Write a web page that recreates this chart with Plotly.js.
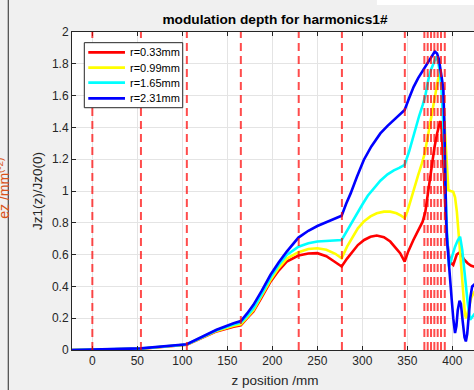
<!DOCTYPE html>
<html>
<head>
<meta charset="utf-8">
<script src="https://cdn.plot.ly/plotly-3.0.1.min.js"></script>
<style>
html,body{margin:0;padding:0;overflow:hidden;background:#f0f0f0;}
#chart{width:482px;height:390px;}
</style>
</head>
<body>
<div id="chart"></div>
<script>
// ---- data ----
const seriesNames = ["r=0.33mm", "r=0.99mm", "r=1.65mm", "r=2.31mm"];
const seriesColors = ["#ff0000", "#ffff00", "#00ffff", "#0000ff"];

const zRed = [-22.6, 0, 54, 105, 120, 138, 157, 165, 172, 179, 188, 198, 207, 216, 229, 240, 250, 260, 268, 277,
  283, 289, 295, 302, 309, 316, 324, 331, 337, 342, 347,
  351, 356.7, 362, 367, 370, 372, 374, 377, 380, 383, 386.5, 388, 390, 392, 394, 396, 398, 401, 404.9, 407, 410, 413, 417, 421, 425];
const jRed = [0, 0.001, 0.008, 0.033, 0.072, 0.117, 0.146, 0.155, 0.2, 0.242, 0.33, 0.43, 0.5, 0.556, 0.594, 0.607, 0.609, 0.59, 0.56, 0.525,
  0.575, 0.62, 0.66, 0.692, 0.712, 0.72, 0.71, 0.682, 0.645, 0.609, 0.556,
  0.62, 0.692, 0.75, 0.807, 0.87, 0.95, 1.04, 1.15, 1.27, 1.36, 1.44, 1.4, 1.15, 0.9, 0.7, 0.6, 0.55, 0.535, 0.6, 0.61, 0.6, 0.57, 0.546, 0.53, 0.522];

const zYellow = [-22.6, 0, 54, 105, 120, 138, 157, 165, 172, 179, 188, 198, 207, 216, 229, 240, 250, 260, 270, 277,
  283, 289, 295, 302, 309, 316, 324, 331, 338, 343, 347,
  350, 354, 358, 362, 366, 369, 372, 375, 378, 381, 384, 386.5, 388.5, 390.5, 392, 393.3, 394.3, 395.6, 398, 401, 403, 405, 408, 411, 414, 415.5, 418, 421, 425];
const jYellow = [0, 0.001, 0.008, 0.034, 0.073, 0.12, 0.152, 0.162, 0.205, 0.25, 0.34, 0.44, 0.515, 0.575, 0.615, 0.635, 0.64, 0.63, 0.605, 0.577,
  0.65, 0.71, 0.765, 0.81, 0.84, 0.86, 0.87, 0.87, 0.86, 0.845, 0.83,
  0.87, 0.95, 1.03, 1.1, 1.17, 1.23, 1.32, 1.42, 1.52, 1.62, 1.7, 1.75, 1.68, 1.5, 1.33, 1.2, 1.1, 1.006, 1.0, 0.995, 0.96, 0.87, 0.66, 0.45, 0.22, 0.2, 0.26, 0.33, 0.37];

const zCyan = [-22.6, 0, 54, 105, 120, 138, 157, 165, 172, 179, 188, 198, 207, 216, 229, 240, 250, 260, 270, 277,
  285, 293, 300, 306, 313, 320, 328, 335, 341, 347,
  352, 358, 363, 367, 370, 373.3, 376, 379, 382, 384, 386.3, 388, 389.5, 391, 392.5, 394, 396.3, 399, 403, 406, 408.6, 411, 414, 417, 419.7, 422, 425];
const jCyan = [0, 0.002, 0.009, 0.035, 0.075, 0.124, 0.16, 0.172, 0.215, 0.262, 0.35, 0.455, 0.535, 0.598, 0.65, 0.672, 0.682, 0.686, 0.689, 0.692,
  0.77, 0.85, 0.915, 0.97, 1.02, 1.065, 1.105, 1.13, 1.145, 1.165,
  1.25, 1.38, 1.47, 1.54, 1.6, 1.7, 1.76, 1.8, 1.845, 1.82, 1.74, 1.63, 1.5, 1.3, 1.0, 0.75, 0.525, 0.58, 0.65, 0.69, 0.713, 0.63, 0.45, 0.3, 0.19, 0.21, 0.23];

const zBlue = [-22.6, 0, 54, 105, 120, 138, 157, 165, 172, 179, 188, 198, 207, 216, 229, 240, 250, 260, 270, 277,
  282, 287, 294, 301.6, 310, 320, 328, 335, 341, 347,
  352, 357, 362, 366, 370, 373.3, 377, 380.5, 383, 385, 388, 390, 391, 392, 393, 394, 395.6, 397.5, 399.3, 401, 403, 404.5, 406, 408, 409.5, 411.5, 413.5, 415, 416.5, 418, 420, 422, 424, 426];
const jBlue = [0, 0.002, 0.01, 0.036, 0.077, 0.127, 0.168, 0.182, 0.23, 0.284, 0.37, 0.473, 0.55, 0.619, 0.707, 0.75, 0.78, 0.805, 0.83, 0.845,
  0.92, 0.985, 1.09, 1.195, 1.28, 1.362, 1.41, 1.446, 1.475, 1.51,
  1.585, 1.655, 1.71, 1.745, 1.785, 1.815, 1.85, 1.877, 1.865, 1.83, 1.72, 1.64, 1.45, 1.1, 0.85, 0.7, 0.57, 0.42, 0.316, 0.2, 0.107, 0.15, 0.25, 0.31, 0.29, 0.18, 0.08, 0.054, 0.1, 0.2, 0.33, 0.4, 0.41, 0.39];

// cavity boundary positions (red dashed lines)
const boundaries = [0, 54, 105, 165, 229.3, 277.3, 347.2, 368.9, 372.6, 376.3, 380, 383.7, 387.4, 391.6];

const xTicks = [0, 50, 100, 150, 200, 250, 300, 350, 400];
const yTicks = [0, 0.2, 0.4, 0.6, 0.8, 1, 1.2, 1.4, 1.6, 1.8, 2];

const titleText = "modulation depth for harmonics1#";
const xTitle = "z position /mm";
const yTitle = "Jz1(z)/Jz0(0)";
const otherYTitle = "ez /mm<sup>(-2)</sup>";

// ---- figure ----
const zs = [zRed, zYellow, zCyan, zBlue];
const js = [jRed, jYellow, jCyan, jBlue];
const traces = zs.map((z, i) => ({
  x: z, y: js[i], type: "scatter", mode: "lines", name: seriesNames[i],
  line: {color: seriesColors[i], width: 2.6}, showlegend: false
}));

const FONT = "Liberation Sans, Arial, Helvetica, sans-serif";
const TXT = "#262626";

const shapes = boundaries.map(b => ({
  type: "line", xref: "x", yref: "paper", x0: b, x1: b, y0: 0, y1: 1,
  line: {color: "rgba(255,0,0,0.7)", width: 2, dash: "8px,5px"}, layer: "above"
}));
// left neighbour-axis edge and top-right white patch (figure chrome)
shapes.push({type: "line", xref: "paper", yref: "paper", x0: -0.157, x1: -0.157, y0: -0.2, y1: 1.2,
  line: {color: TXT, width: 1}});
shapes.push({type: "rect", xref: "paper", yref: "paper", x0: 0.751, x1: 1.05, y0: 1.085, y1: 1.2,
  line: {width: 0}, fillcolor: "#ffffff"});

// legend box (MATLAB-style compact legend)
const legBox = {x0: 0.0303, x1: 0.2727, y0: 0.7619, y1: 0.9664};
const legRows = [0.9362, 0.8877, 0.8406, 0.7915];
shapes.push({type: "rect", xref: "paper", yref: "paper", x0: legBox.x0, x1: legBox.x1, y0: legBox.y0, y1: legBox.y1,
  line: {color: TXT, width: 1}, fillcolor: "#ffffff", layer: "above"});
const annotations = [];
seriesNames.forEach((name, i) => {
  shapes.push({type: "line", xref: "paper", yref: "paper", x0: 0.0401, x1: 0.1305, y0: legRows[i], y1: legRows[i],
    line: {color: seriesColors[i], width: 2.7}, layer: "above"});
  annotations.push({text: name, xref: "paper", yref: "paper", x: 0.1372, y: legRows[i],
    xanchor: "left", yanchor: "middle", showarrow: false,
    font: {size: 11, color: "#000000", family: FONT}});
});
annotations.push({
  text: otherYTitle, xref: "paper", yref: "paper", x: -0.17, y: 0.51,
  xanchor: "center", yanchor: "middle", textangle: -90, showarrow: false,
  font: {size: 14, color: "#d95319", family: FONT}
});

const layout = {
  width: 482, height: 390,
  margin: {l: 72, r: 4, t: 32, b: 40},
  paper_bgcolor: "#f0f0f0", plot_bgcolor: "#ffffff",
  font: {family: FONT, color: TXT, size: 12},
  title: {text: "<b>" + titleText + "</b>", font: {family: FONT, size: 13.7, color: "#000000"},
    x: 0.5, xref: "paper", y: 1 - 19.5 / 390, yref: "container", yanchor: "middle"},
  xaxis: {
    range: [-22.6, 428.5], tickvals: xTicks, ticks: "inside", ticklen: 4, tickcolor: TXT,
    showline: true, linecolor: TXT, linewidth: 1, mirror: "ticks",
    showgrid: true, gridcolor: "#e4e4e4", gridwidth: 1, zeroline: false,
    tickfont: {size: 12, color: TXT, family: FONT},
    title: {text: xTitle, font: {size: 13.5, color: TXT, family: FONT}, standoff: 8}
  },
  yaxis: {
    range: [0, 2], tickvals: yTicks, ticks: "inside", ticklen: 4, tickcolor: TXT,
    showline: true, linecolor: TXT, linewidth: 1, mirror: "ticks",
    showgrid: true, gridcolor: "#e4e4e4", gridwidth: 1, zeroline: false,
    tickfont: {size: 12, color: TXT, family: FONT},
    title: {text: yTitle, font: {size: 13.5, color: TXT, family: FONT}, standoff: 6}
  },
  shapes: shapes,
  annotations: annotations,
  showlegend: false
};

Plotly.newPlot("chart", traces, layout, {displayModeBar: false, staticPlot: true});
</script>
</body>
</html>
